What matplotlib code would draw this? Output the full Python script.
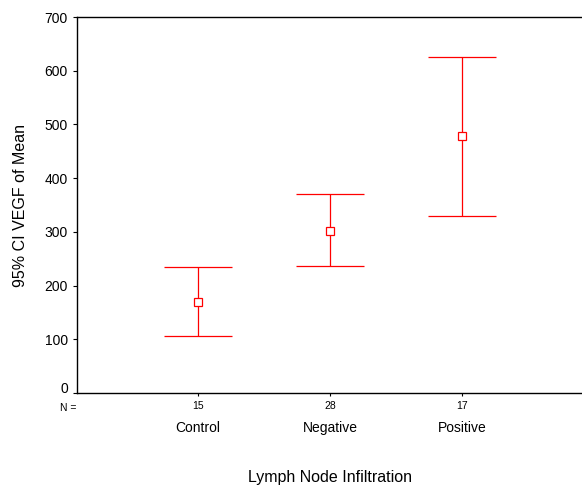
import numpy as np
import matplotlib
matplotlib.use("Agg")
from matplotlib import pyplot as plt
import matplotlib.transforms as mtransforms

plt.rcParams['font.family'] = ['Liberation Sans', 'DejaVu Sans']

groups = ['Control', 'Negative', 'Positive']
n_counts = ['15', '28', '17']
means = np.array([170, 302, 478])
lower = np.array([106, 236, 330])
upper = np.array([234, 371, 626])

fig = plt.figure(figsize=(5.82, 4.87), dpi=100)
ax = fig.add_axes([0.1323, 0.193, 0.8677, 0.772])

x = np.arange(1, len(groups) + 1)
ax.errorbar(x, means, yerr=[means - lower, upper - means], fmt='s',
            color='#ff0000', ecolor='#ff0000', elinewidth=0.9, capsize=24.5,
            capthick=0.9, markersize=5.5, markerfacecolor='white',
            markeredgewidth=0.9, markeredgecolor='#ff0000')

ax.set_xlim(0.083, 3.91)
ax.set_ylim(0, 700)
ax.set_yticks(np.arange(0, 701, 100))
ax.tick_params(axis='y', labelsize=10, length=3, width=0.8, direction='out')
ax.set_xticks(x)
ax.set_xticklabels(n_counts, fontsize=7.5)
ax.tick_params(axis='x', length=2, width=0.8, direction='out', pad=4)

# the zero label sits a little above the axis line
fig.canvas.draw()
zero_lbl = ax.get_yticklabels()[0]
zero_lbl.set_transform(zero_lbl.get_transform() +
                       mtransforms.ScaledTranslation(0, 6 / 100, fig.dpi_scale_trans))

ax.spines['right'].set_visible(False)
for side in ['left', 'bottom', 'top']:
    ax.spines[side].set_linewidth(1.0)

trans = mtransforms.blended_transform_factory(ax.transData, ax.transAxes)
for xi, name in zip(x, groups):
    ax.text(xi, -0.092, name, transform=trans, ha='center', va='center', fontsize=10)
ax.text(-0.002, -0.039, 'N =', transform=ax.transAxes, ha='right', va='center', fontsize=7.5)

ax.set_ylabel('95% CI VEGF of Mean', fontsize=11.5, labelpad=12)
fig.text(0.567, 0.02, 'Lymph Node Infiltration', ha='center', va='center', fontsize=11.5)

fig.savefig('out.png', dpi=100)
